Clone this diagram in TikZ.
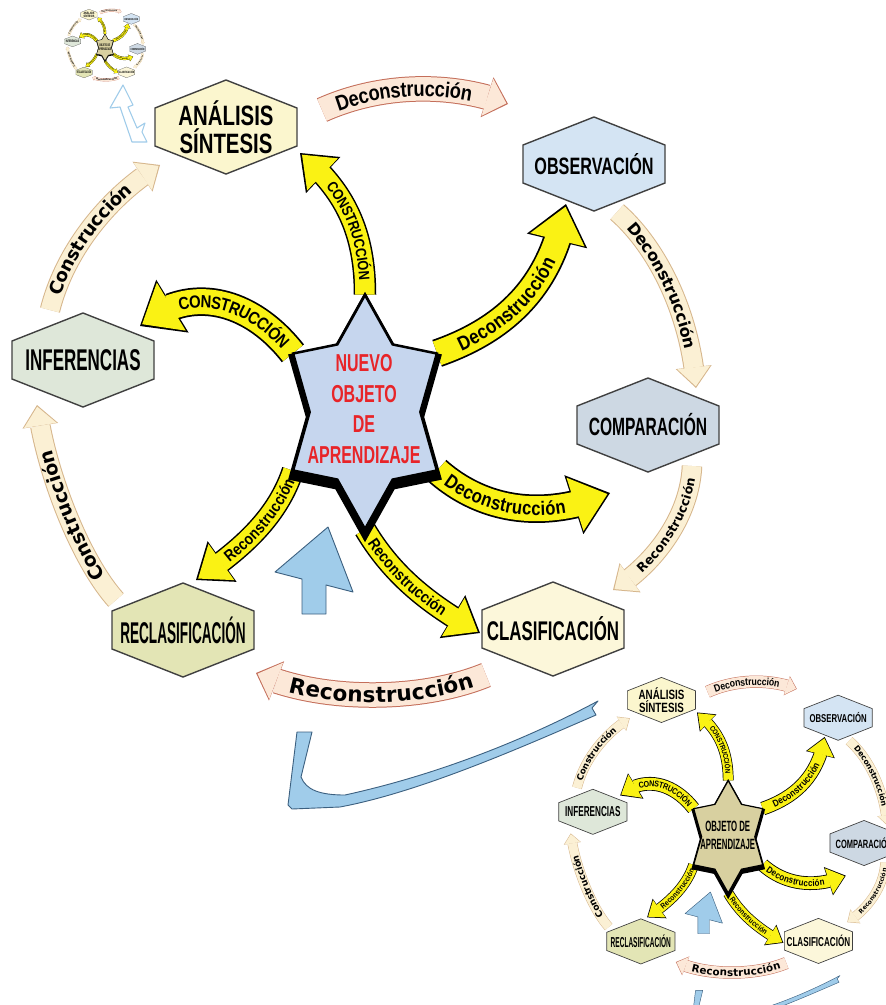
\documentclass[tikz,border=0pt]{standalone}
\usepackage{fontspec}
\usepackage{xfp}
\setmainfont{Liberation Sans}
\newfontfamily\widefont{DejaVu Sans}
\newfontfamily\narrowfont{Liberation Sans}[FakeStretch=0.85]
\usetikzlibrary{arrows.meta,bending,decorations.text,shapes.geometric}

\definecolor{arrowyellow}{RGB}{250,242,20}
\definecolor{ribbonfill}{RGB}{251,240,212}
\definecolor{ribbonline}{RGB}{214,182,140}
\definecolor{pinkfill}{RGB}{252,232,216}
\definecolor{pinkline}{RGB}{196,110,90}
\definecolor{anafill}{RGB}{251,246,206}
\definecolor{obsfill}{RGB}{212,228,243}
\definecolor{compfill}{RGB}{205,216,227}
\definecolor{clasfill}{RGB}{252,247,218}
\definecolor{reclfill}{RGB}{227,229,181}
\definecolor{inffill}{RGB}{222,231,217}
\definecolor{starblue}{RGB}{198,214,238}
\definecolor{starkhaki}{RGB}{216,208,160}
\definecolor{skyblue}{RGB}{160,204,234}
\definecolor{skyline}{RGB}{60,96,128}
\definecolor{labelred}{RGB}{232,36,40}

% scale of the copy being drawn
\def\sc{1}
\newcommand\sz[1]{\fpeval{(#1)*\sc}pt}
\newcommand\fs[1]{\fontsize{\fpeval{#1*\sc}}{\fpeval{#1*\sc}}\selectfont}

\tikzset{
  hexline/.style={draw=black!75, line width=\sz{1.4}},
  hexlabel/.style={transform shape, inner sep=0pt, align=center, font=\bfseries\fontsize{10}{8.9}\selectfont},
  starshape/.style={star, star points=6, star point ratio=1.5, minimum size=200pt, inner sep=0pt, transform shape, xscale=0.83, yscale=1.17},
  newlabel/.style={transform shape, inner sep=0pt, align=center, xscale=1.6, yscale=2.45, text=labelred, font=\bfseries\fontsize{10}{12.4}\selectfont},
  oldlabel/.style={transform shape, inner sep=0pt, align=center, xscale=1.62, yscale=3.1, font=\bfseries\fontsize{10}{11.7}\selectfont},
  bigout/.style={draw=black, line width=\sz{28.5}, -{Triangle[width=62pt, length=38pt, line width=0pt, scale=\sc]}},
  bigin/.style={draw=arrowyellow, line width=\sz{25}, shorten >=\sz{2.8}, -{Triangle[width=56pt, length=34pt, line width=0pt, scale=\sc]}},
  smallout/.style={draw=black, line width=\sz{22.5}, -{Triangle[width=50pt, length=32pt, line width=0pt, scale=\sc]}},
  smallin/.style={draw=arrowyellow, line width=\sz{19.5}, shorten >=\sz{2.6}, -{Triangle[width=44.5pt, length=28.5pt, line width=0pt, scale=\sc]}},
  ribout/.style={draw=ribbonline, line width=\sz{20.5}, -{Triangle[width=36pt, length=21pt, line width=0pt, scale=\sc]}},
  ribin/.style={draw=ribbonfill, line width=\sz{18.5}, shorten >=\sz{1.7}, -{Triangle[width=33pt, length=19pt, line width=0pt, scale=\sc]}},
  wideout/.style={draw=pinkline, line width=\sz{25.5}, -{Triangle[width=42pt, length=22pt, line width=0pt, scale=\sc]}},
  widein/.style={draw=pinkfill, line width=\sz{23.5}, shorten >=\sz{1.7}, -{Triangle[width=39pt, length=20pt, line width=0pt, scale=\sc]}},
  bluefill/.style={fill=skyblue, draw=skyline, line width=\sz{0.9}, line join=round}
}

% band arrow: outline, filling, text along it
\newcommand\band[4]{%
  \draw[#1] #3;
  \draw[#2] #3;
  \path[decorate, decoration={text along path, #4}] #3;}

% hexagon with its label
\newcommand\hexagon[7]{%
  \draw[hexline, fill=#4] (#2,#3) ++(-71,-19) -- ++(71,-28) -- ++(71,28) -- ++(0,38) -- ++(-71,28) -- ++(-71,-28) -- cycle;
  \node[hexlabel, xscale=#5, yscale=#6] (#1) at (#2,#3) {#7};}

% the whole cycle: prefix, shift x, shift y, scale, star fill, label style, label
\newcommand\cyclemap[7]{%
\begin{scope}[shift={(#2,#3)}, scale=#4]
\def\sc{#4}
% free ends of the connectors
\foreach \n/\x/\y in {y1b/300/153, y2b/140/326, y3b/566/204, y4b/610/493, y5b/196/580, y6b/480/633,
    o1a/322/110, o1b/508/104, o2a/617/212, o2b/696/388, o3a/692/466, o3b/613/590,
    o4a/486/675, o4b/256/673, o5a/116/600, o5b/37/405, o6a/50/310, o6b/160/165}
  \coordinate (#1\n) at (\x,\y);
\node[starshape] (#1star) at (365,412) {};

% outer ring
\band{wideout}{widein}{(#1o1a) .. controls +(58,-26) and +(-58,-22) .. (#1o1b)}
  {text={|\fs{21.5}\narrowfont\bfseries|Deconstrucción}, text align={align=center, right indent=\sz{22}}, raise=\sz{-7.4}}
\band{ribout}{ribin}{(#1o2a) .. controls +(38,33) and +(-6,-78) .. (#1o2b)}
  {text={|\fs{16}\widefont\bfseries|Deconstrucción}, text align={align=center, right indent=\sz{21}}, raise=\sz{-5.5}}
\band{ribout}{ribin}{(#1o3a) .. controls +(-2,46) and +(47,-30) .. (#1o3b)}
  {text={|\fs{12.5}\widefont\bfseries|Reconstrucción}, reverse path, text align={align=center, left indent=\sz{21}}, raise=\sz{-4.3}}
\band{wideout}{widein}{(#1o4a) .. controls +(-66,27) and +(64,29) .. (#1o4b)}
  {text={|\fs{21.5}\widefont\bfseries|Reconstrucción}, reverse path, text align={align=center, left indent=\sz{22}}, raise=\sz{-7.3}}
\band{ribout}{ribin}{(#1o5a) .. controls +(-36,-40) and +(8,65) .. (#1o5b)}
  {text={|\fs{19}\widefont\bfseries|Construcción}, text align={align=center, right indent=\sz{21}}, raise=\sz{-6.5}}
\band{ribout}{ribin}{(#1o6a) .. controls +(15,-60) and +(-50,30) .. (#1o6b)}
  {text={|\fs{18}\widefont\bfseries|Construcción}, text align={align=center, right indent=\sz{21}}, raise=\sz{-6.2}}

% arrows out of the star
\band{smallout}{smallin}{(#1star.outer point 1) .. controls +(0,-65) and +(43,36) .. (#1y1b)}
  {text={|\fs{15}\narrowfont\bfseries|CONSTRUCCIÓN}, reverse path, text align={align=center, left indent=\sz{28}}, raise=\sz{-5.4}}
\band{bigout}{bigin}{(#1star.outer point 2) .. controls +(-43,-55) and +(48,-42) .. (#1y2b)}
  {text={|\fs{17.5}\narrowfont\bfseries|CONSTRUCCIÓN}, reverse path, text align={align=center, left indent=\sz{34}}, raise=\sz{-6.3}}
\band{bigout}{bigin}{(#1star.outer point 6) .. controls +(63,-22) and +(-14,86) .. (#1y3b)}
  {text={|\fs{20}\narrowfont\bfseries|Deconstrucción}, text align={align=center, right indent=\sz{34}}, raise=\sz{-6.8}}
\band{bigout}{bigin}{(#1star.outer point 5) .. controls +(43,38) and +(-70,29) .. (#1y4b)}
  {text={|\fs{19.5}\narrowfont\bfseries|Deconstrucción}, text align={align=center, right indent=\sz{34}}, raise=\sz{-6.6}}
\band{smallout}{smallin}{(#1star.outer point 3) .. controls +(-15,45) and +(48,-32) .. (#1y5b)}
  {text={|\fs{16}\narrowfont\bfseries|Reconstrucción}, reverse path, text align={align=center, left indent=\sz{28}}, raise=\sz{-5.5}}
\band{smallout}{smallin}{(#1star.outer point 4) .. controls +(28,47) and +(-50,-28) .. (#1y6b)}
  {text={|\fs{16}\narrowfont\bfseries|Reconstrucción}, text align={align=center, right indent=\sz{28}}, raise=\sz{-5.5}}

% star in the middle
\node[starshape, fill=black, minimum size=214pt] (#1starshadow) at (365,417) {};
\node[starshape, fill=#5, draw=black, line width=\sz{2.5}] (#1starface) at (365,412) {};
\node[#6] (#1label) at (364,409) {#7};

% stages
\hexagon{#1ana}{226}{127}{anafill}{2.04}{2.8}{ANÁLISIS\\SÍNTESIS}
\hexagon{#1obs}{594}{164}{obsfill}{1.62}{2.37}{OBSERVACIÓN}
\hexagon{#1comp}{648}{425}{compfill}{1.56}{2.5}{COMPARACIÓN}
\hexagon{#1clas}{553}{629}{clasfill}{1.69}{2.7}{CLASIFICACIÓN}
\hexagon{#1recl}{183}{630}{reclfill}{1.36}{3.0}{RECLASIFICACIÓN}
\hexagon{#1inf}{83}{360}{inffill}{1.7}{3.0}{INFERENCIAS}
\end{scope}}

% blue arrows under the cycle
\newcommand\bluearrows[3]{%
\begin{scope}[shift={(#1,#2)}, scale=#3]
\def\sc{#3}
\draw[bluefill] (302,614) -- (326,614) -- (326,585) -- (353,592) -- (328,527) -- (275,572) -- (302,579) -- cycle;
\draw[bluefill] (297,732) -- (312,732) -- (301,777) .. controls (306,790) and (320,795) .. (345,795)
  .. controls (450,772) and (540,732) .. (598,701) -- (592,708) -- (596,715)
  .. controls (520,748) and (420,792) .. (340,807) -- (292,809) -- (288,805) -- cycle;
\end{scope}}

\begin{document}
\begin{tikzpicture}[x=1pt, y=-1pt]
\clip (0,0) rectangle (886,1005);
\fill[white] (0,0) rectangle (886,1005);

% small copy, upper left
\cyclemap{t}{63}{0}{0.115}{starkhaki}{oldlabel}{OBJETO DE\\APRENDIZAJE}
\draw[skyblue, fill=white, line width=1.1, line join=round] (123,85) -- (133,105) -- (128,107) -- (137,128) -- (145,123)
  -- (142,132) -- (147,142) -- (132,142) -- (120,107) -- (110,108) -- cycle;

% small copy, lower right
\bluearrows{553}{639}{0.48}
\cyclemap{m}{553}{639}{0.48}{starkhaki}{oldlabel}{OBJETO DE\\APRENDIZAJE}

% main cycle
\bluearrows{0}{0}{1}
\cyclemap{}{0}{0}{1}{starblue}{newlabel}{NUEVO\\OBJETO\\DE\\APRENDIZAJE}
\end{tikzpicture}
\end{document}
